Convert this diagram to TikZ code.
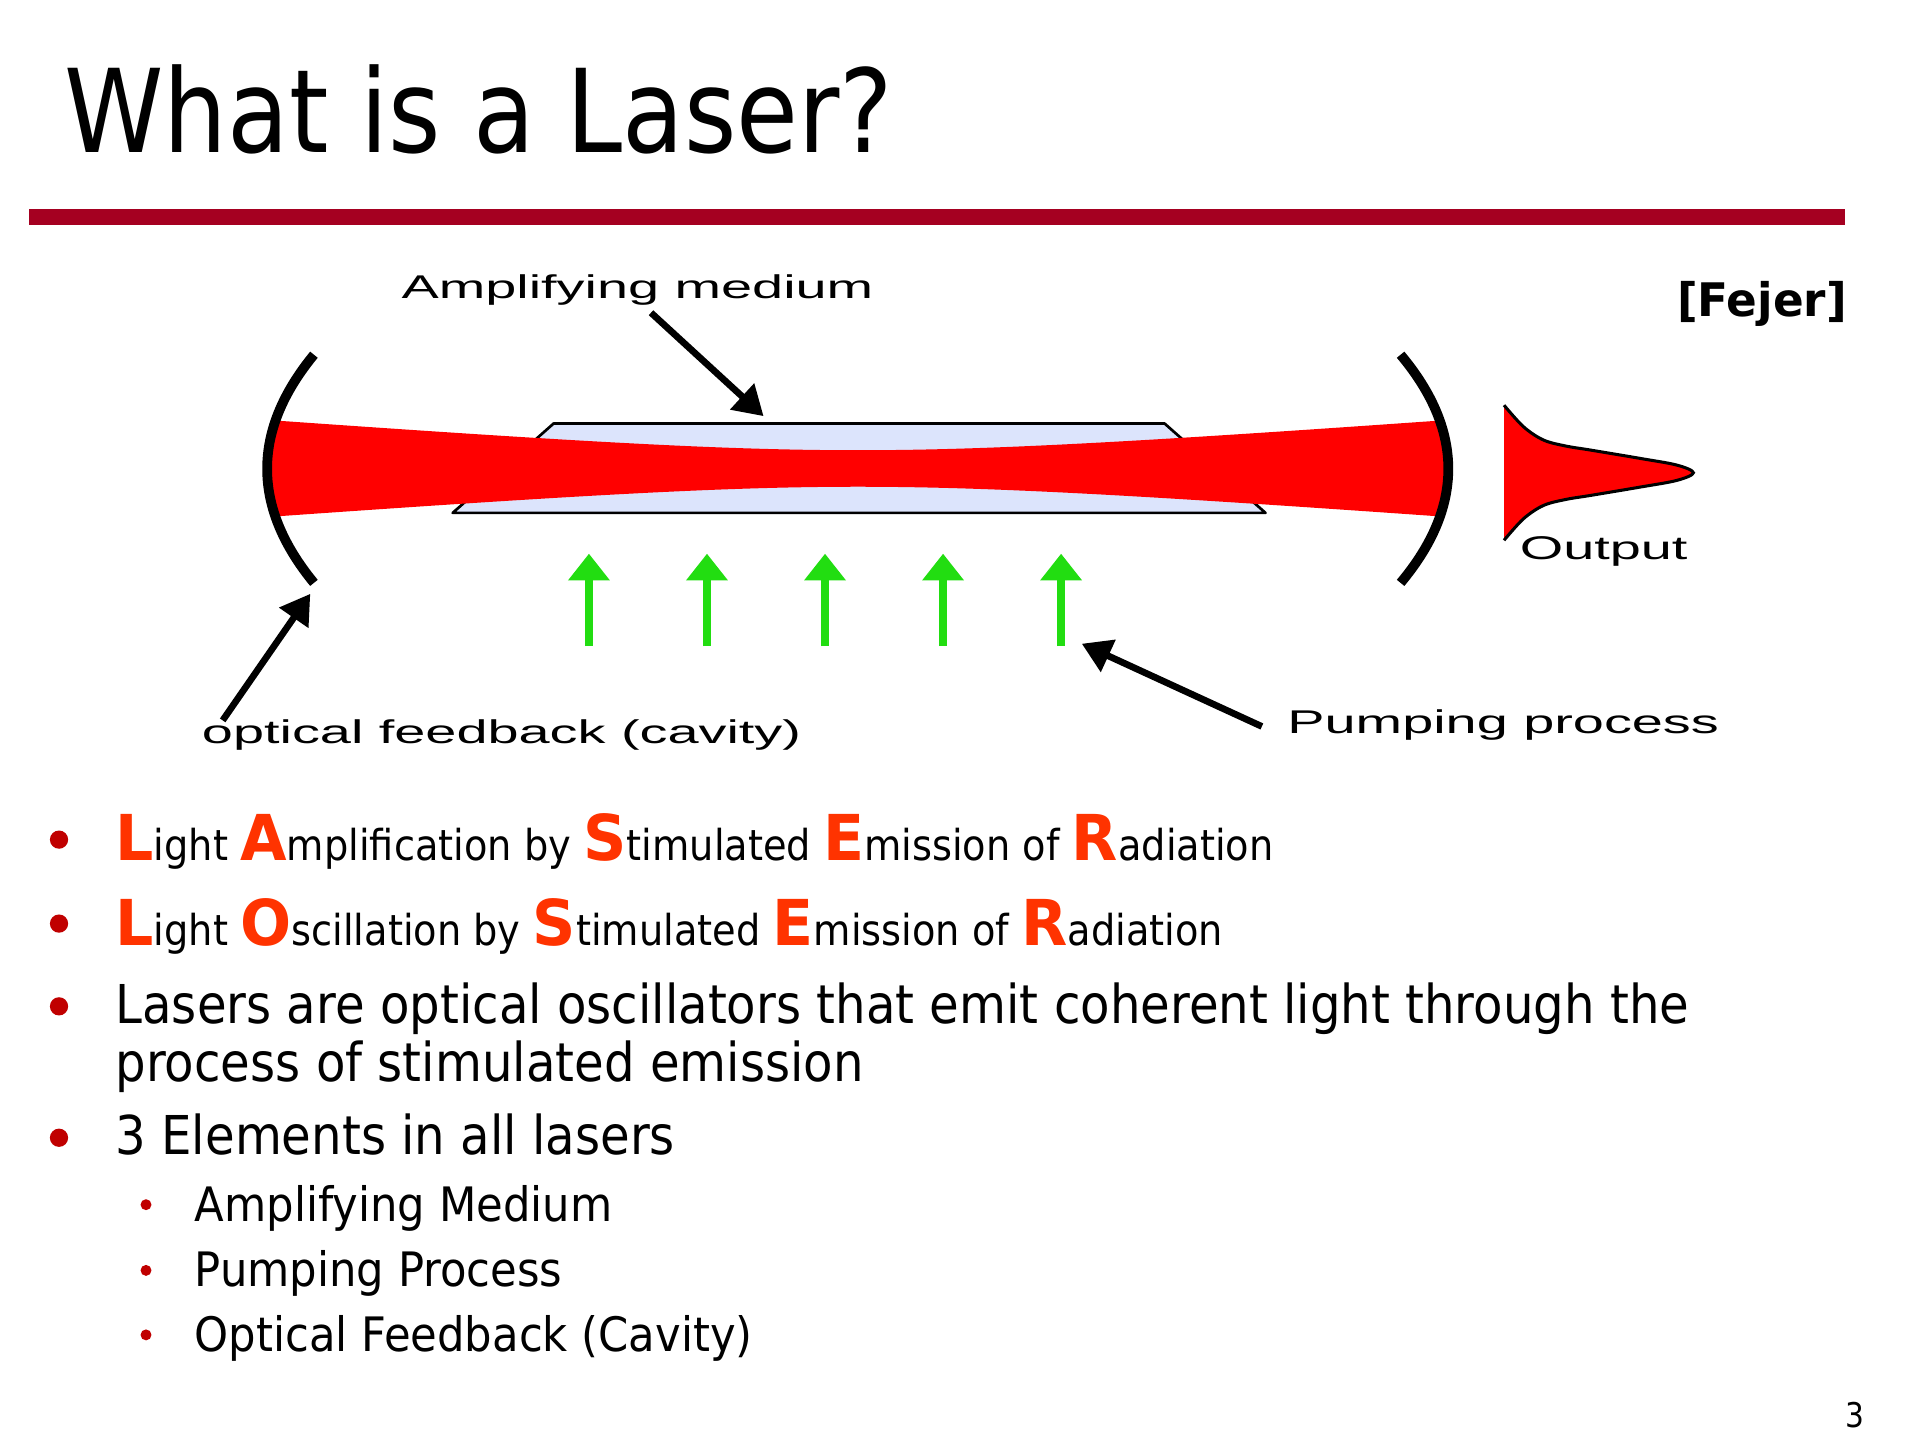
\documentclass[tikz,border=0pt]{standalone}
\usepackage{fontspec}
\setmainfont{DejaVu Sans}[FakeStretch=0.87,BoldFeatures={FakeStretch=0.95}]
\newfontfamily\fbody{DejaVu Sans}[FakeStretch=0.90]
\newfontfamily\fsub{DejaVu Sans}[FakeStretch=0.913]
\newfontfamily\fsmall{DejaVu Sans}[FakeStretch=0.90,BoldFeatures={FakeStretch=0.95}]
\newfontfamily\ffejer{DejaVu Sans}[FakeStretch=0.98]
\newfontfamily\diagfont{Liberation Sans}[FakeStretch=1.7]
\usetikzlibrary{arrows.meta}
\definecolor{titlered}{RGB}{165,0,33}
\definecolor{bulletred}{RGB}{192,0,0}
\definecolor{laserorange}{RGB}{255,51,0}
\definecolor{beamred}{RGB}{255,0,0}
\definecolor{mediumblue}{RGB}{220,228,252}
\definecolor{pumpgreen}{RGB}{34,221,17}
\newcommand\BL[1]{{\fontsize{52}{52}\selectfont\bfseries\color{laserorange}#1}}
\tikzset{
  lbl/.style={anchor=base west,inner sep=0pt,outer sep=0pt},
  diaglbl/.style={lbl,font=\diagfont\fontsize{27}{27}\selectfont},
  acronym/.style={lbl,font=\fsmall\fontsize{35}{36}\selectfont},
  bodytext/.style={lbl,font=\fbody\fontsize{44}{48}\selectfont},
  subtext/.style={lbl,font=\fsub\fontsize{39}{40}\selectfont},
  mirror/.style={line width=8pt},
  blackarrow/.style={line width=5.5pt,-{Triangle[length=24pt,width=28pt]}},
  pumparrow/.style={pumpgreen,line width=6.5pt,-{Triangle[length=22pt,width=33pt]}},
  bigdot/.style={fill=bulletred,draw=none},
}
\begin{document}
\begin{tikzpicture}[x=1pt,y=-1pt]
\useasboundingbox (0,0) rectangle (1568,1196);
\fill[white] (0,0) rectangle (1568,1196);
% title
\node[lbl,font=\fontsize{95}{95}\selectfont] (title) at (53,125) {What is a Laser?};
\fill[titlered] (24,172) rectangle (1516,185);
\node[anchor=base east,inner sep=0pt,font=\ffejer\bfseries\fontsize{38}{38}\selectfont] (fejer) at (1518,260) {[Fejer]};
% medium
\draw[fill=mediumblue,line width=2.2pt,line join=round] (372,421.5) -- (455,348) -- (957,348) -- (1040,421.5) -- cycle;
% beam
\begin{scope}
\clip (258,291.5) .. controls (206.7,354) and (206.7,416.5) .. (258,479) -- (1151,479) .. controls (1203.3,416.5) and (1203.3,354) .. (1151,291.5) -- cycle;
\fill[beamred] plot[domain=-490:490,samples=90] ({705+\x},{385-15*sqrt(1+(\x/197)*(\x/197))}) -- plot[domain=490:-490,samples=90] ({705+\x},{385+15*sqrt(1+(\x/197)*(\x/197))}) -- cycle;
\end{scope}
% mirrors
\draw[mirror] (258,291.5) .. controls (206.7,354) and (206.7,416.5) .. (258,479);
\draw[mirror] (1151,291.5) .. controls (1203.3,354) and (1203.3,416.5) .. (1151,479);
% output pulse
\fill[beamred] plot[smooth,tension=0.55] coordinates {(1236,333) (1252,350.7) (1268.4,361.6) (1287,366.6) (1306.7,369.8) (1347.8,376.7) (1378,382.2) (1391.6,388.5) (1378,394.8) (1347.8,400.3) (1306.7,407.2) (1287,410.4) (1268.4,415.4) (1252,426.3) (1236,444)} -- cycle;
\draw[line width=2.5pt] plot[smooth,tension=0.55] coordinates {(1236,333) (1252,350.7) (1268.4,361.6) (1287,366.6) (1306.7,369.8) (1347.8,376.7) (1378,382.2) (1391.6,388.5) (1378,394.8) (1347.8,400.3) (1306.7,407.2) (1287,410.4) (1268.4,415.4) (1252,426.3) (1236,444)};
% labels
\node[diaglbl] (amp) at (330,245) {Amplifying medium};
\node[diaglbl] (cav) at (166,611) {optical feedback (cavity)};
\node[diaglbl] (pump) at (1058,603) {Pumping process};
\node[diaglbl] (out) at (1249,460) {Output};
% black arrows
\coordinate (ampS) at (535,257);  \coordinate (ampT) at (627.5,342);
\coordinate (cavS) at (183,592);  \coordinate (cavT) at (255,488);
\coordinate (pumpS) at (1037,597); \coordinate (pumpT) at (889,529);
\draw[blackarrow] (ampS) -- (ampT);
\draw[blackarrow] (cavS) -- (cavT);
\draw[blackarrow] (pumpS) -- (pumpT);
% green pump arrows
\foreach \i/\xx in {1/484,2/581,3/678,4/775,5/872}{
  \coordinate (g\i b) at (\xx,531);
  \coordinate (g\i t) at (\xx,455);
  \draw[pumparrow] (g\i b) -- (g\i t);
}
% bullets
\fill[bigdot] (48.5,690) circle (7.5);
\fill[bigdot] (48.5,759) circle (7.5);
\fill[bigdot] (48.5,827) circle (7.5);
\fill[bigdot] (48.5,935) circle (7.5);
\fill[bigdot] (120,990) circle (4.5);
\fill[bigdot] (120,1044) circle (4.5);
\fill[bigdot] (120,1097) circle (4.5);
\node[acronym] (b1) at (95,707) {\BL{L}ight \BL{A}mplification by \BL{S}timulated \BL{E}mission of \BL{R}adiation};
\node[acronym] (b2) at (95,777) {\BL{L}ight \BL{O}scillation by \BL{S}timulated \BL{E}mission of \BL{R}adiation};
\node[bodytext] (b3a) at (95,841) {Lasers are optical oscillators that emit coherent light through the};
\node[bodytext] (b3b) at (95,889) {process of stimulated emission};
\node[bodytext] (b4) at (95,949) {3 Elements in all lasers};
\node[subtext] (s1) at (160,1004) {Amplifying Medium};
\node[subtext] (s2) at (160,1057.5) {Pumping Process};
\node[subtext] (s3) at (160,1111) {Optical Feedback (Cavity)};
\node[anchor=base east,inner sep=0pt,font=\fontsize{28}{28}\selectfont] (pg) at (1532,1173.5) {3};
\end{tikzpicture}
\end{document}
